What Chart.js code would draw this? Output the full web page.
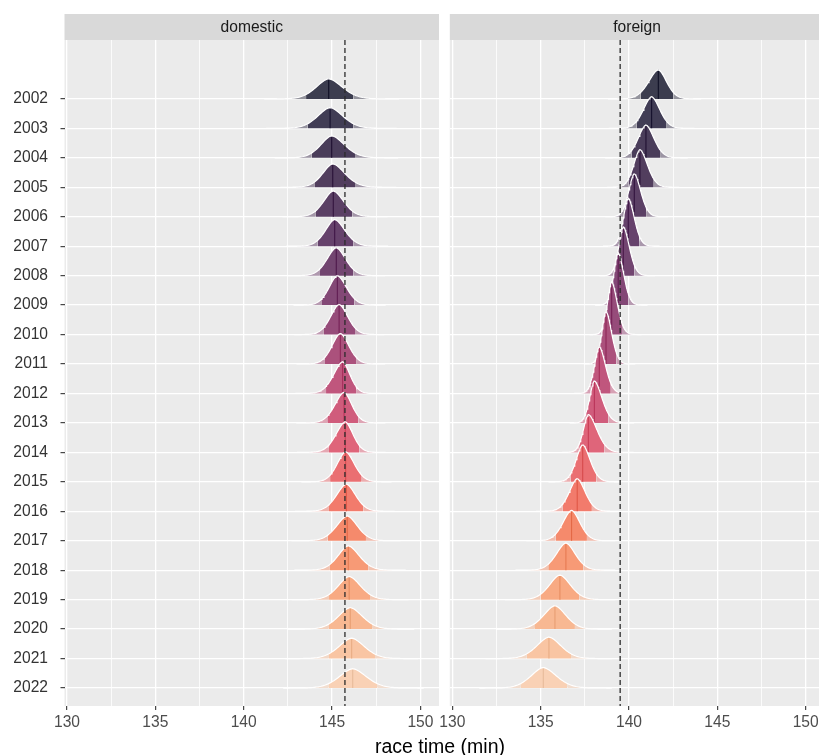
<!DOCTYPE html>
<html>
<head>
<meta charset="utf-8">
<script src="https://cdn.jsdelivr.net/npm/chart.js@4.4.0/dist/chart.umd.min.js"></script>
<style>
  html, body { margin: 0; padding: 0; background: #fff; }
  #wrap { position: relative; width: 819px; height: 755px; overflow: hidden; }
  #domestic { position: absolute; left: 0; top: 0; }
  #foreign { position: absolute; left: 425px; top: 0; }
  #xtitle {
    position: absolute; left: 290px; width: 300px; top: 735px;
    text-align: center; line-height: 20px; color: #000;
    font: 19.5px "Liberation Sans", Arial, sans-serif;
  }
</style>
</head>
<body>
<div id="wrap">
  <canvas id="domestic" width="445" height="755"></canvas>
  <canvas id="foreign" width="405" height="755"></canvas>
  <div id="xtitle">race time (min)</div>
</div>
<script>
// rows (top to bottom) and x ticks
const years = [2002, 2003, 2004, 2005, 2006, 2007, 2008, 2009, 2010, 2011, 2012,
               2013, 2014, 2015, 2016, 2017, 2018, 2019, 2020, 2021, 2022];
const xTicks = [130, 135, 140, 145, 150];

// domestic: median, 5% and 95% quantile of race time (min)
const domesticMedian = [144.81, 144.89, 144.98, 145.04, 145.07, 145.15, 145.24, 145.30, 145.40, 145.47, 145.60,
                        145.68, 145.75, 145.77, 145.81, 145.86, 145.92, 145.97, 146.03, 146.11, 146.17];
const domesticLow = [143.53, 143.62, 143.85, 144.00, 144.06, 144.19, 144.28, 144.43, 144.51, 144.60, 144.66,
                     144.73, 144.79, 144.89, 144.79, 144.75, 144.85, 144.83, 144.79, 144.79, 144.79];
const domesticHigh = [146.21, 146.21, 146.30, 146.30, 146.15, 146.21, 146.21, 146.26, 146.30, 146.36, 146.36,
                      146.49, 146.55, 146.68, 146.77, 146.92, 147.06, 147.15, 147.30, 147.43, 147.58];
const domesticRef = 145.73;

// foreign
const foreignMedian = [141.66, 141.28, 140.96, 140.62, 140.30, 139.96, 139.68, 139.39, 139.02, 138.70, 138.32,
                       138.04, 137.70, 137.38, 137.07, 136.75, 136.43, 136.09, 135.81, 135.47, 135.15];
const foreignLow = [140.66, 140.43, 140.15, 139.97, 139.72, 139.46, 139.20, 138.93, 138.58, 138.26, 137.82,
                    137.55, 137.18, 136.70, 136.25, 135.85, 135.43, 135.00, 134.64, 134.21, 133.88];
const foreignHigh = [142.51, 142.13, 141.79, 141.40, 140.97, 140.58, 140.30, 139.96, 139.60, 139.28, 138.97,
                     138.83, 138.60, 138.15, 137.90, 137.62, 137.41, 137.19, 136.94, 136.72, 136.51];
const foreignRef = 139.5;

// fill colour per year (as it shows on the grey panel)
const palette = ['#3c3d4f', '#413d55', '#4a3d5a', '#523e5e', '#5b4065', '#66426c', '#724570', '#834876',
                 '#964c7a', '#ab517c', '#c0567d', '#d05c7c', '#df657a', '#ea6f72', '#f27b6c', '#f58a6c',
                 '#f79a76', '#f8aa83', '#f8b892', '#f9c5a3', '#f9d1b5'];

const FONT = '"Liberation Sans", Arial, sans-serif';
const PANEL_BG = '#ebebeb';
const RIDGE_HEIGHT = 1.824; // overall ridge scaling, in rows
const BETA = 1.75;          // peakedness of the ridge shape
const Y_MIN = 2000, Y_MAX = 2022.61;
const X_MIN = 129.859, X_MAX = 151.053;

Chart.defaults.font.family = FONT;

function hexRgb(h) {
  return [1, 3, 5].map(i => parseInt(h.slice(i, i + 2), 16));
}
function mix(h, other, t) {
  const a = hexRgb(h), b = hexRgb(other);
  return 'rgb(' + a.map((v, i) => Math.round(v * (1 - t) + b[i] * t)).join(',') + ')';
}
function lineColour(h) {
  const c = hexRgb(h).map(v => Math.max(0, Math.min(255, (v - 0.2 * 235) / 0.8)) * 0.92);
  return 'rgb(' + c.map(Math.round).join(',') + ')';
}

// half-shape exp(-t^beta): its area and the point holding 90% of it
const shape = (function () {
  const dt = 0.0005;
  let total = 0;
  for (let t = 0; t < 12; t += dt) total += Math.exp(-Math.pow(t + dt / 2, BETA)) * dt;
  let acc = 0, q = 0;
  for (let t = 0; t < 12; t += dt) {
    acc += Math.exp(-Math.pow(t + dt / 2, BETA)) * dt;
    if (acc >= 0.9 * total) { q = t + dt; break; }
  }
  return { total: total, q: q };
})();
const RIDGE_SCALE = RIDGE_HEIGHT * shape.total / shape.q;

// split density peaked at the median, its 5% / 95% points at lo / hi, on baseline = year
function ridge(m, lo, hi, base) {
  const aL = (m - lo) / shape.q, aR = (hi - m) / shape.q;
  const k = 1 / ((aL + aR) * shape.total);
  const dens = x => k * Math.exp(-Math.pow(Math.abs(x - m) / (x < m ? aL : aR), BETA));
  const a = m - 3.6 * aL, b = m + 3.6 * aR;
  const xs = [];
  for (let i = 0; i <= 100; i++) xs.push(a + (b - a) * i / 100);
  xs.push(lo, m, hi);
  xs.sort((p, q) => p - q);
  const pt = x => ({ x: x, y: base - RIDGE_SCALE * dens(x) });
  return {
    all: xs.map(pt),
    left: xs.filter(x => x <= lo).map(pt),
    mid: xs.filter(x => x >= lo && x <= hi).map(pt),
    right: xs.filter(x => x >= hi).map(pt),
    top: pt(m)
  };
}

function buildDatasets(med, lo, hi, ref) {
  const sets = [];
  let seq = 0;
  const area = (data, colour, base) => ({
    data: data, fill: { value: base }, backgroundColor: colour,
    borderWidth: 0, pointRadius: 0, order: -(seq++)
  });
  years.forEach((yr, i) => {
    const r = ridge(med[i], lo[i], hi[i], yr);
    const tail = mix(palette[i], PANEL_BG, 0.5);
    sets.push(area(r.left, tail, yr));
    sets.push(area(r.right, tail, yr));
    sets.push(area(r.mid, palette[i], yr));
    sets.push({
      data: [{ x: med[i], y: yr }, r.top], borderColor: lineColour(palette[i]),
      borderWidth: 1.1, pointRadius: 0, fill: false, order: -(seq++)
    });
    sets.push({
      data: r.all, borderColor: '#ffffff', borderWidth: 1.2,
      pointRadius: 0, fill: false, order: -(seq++)
    });
  });
  sets.push({
    data: [{ x: ref, y: Y_MIN }, { x: ref, y: Y_MAX }], borderColor: '#2b2b2b',
    borderWidth: 1.3, borderDash: [5, 3], pointRadius: 0, fill: false, order: -(seq++)
  });
  return sets;
}

const panelPlugin = {
  id: 'panel',
  beforeDraw(chart, args, opts) {
    const { ctx, chartArea } = chart;
    ctx.save();
    ctx.fillStyle = PANEL_BG;
    ctx.fillRect(chartArea.left, chartArea.top, chartArea.right - chartArea.left, chartArea.bottom - chartArea.top);
    ctx.fillStyle = '#d9d9d9';
    ctx.fillRect(chartArea.left, 14, chartArea.right - chartArea.left, chartArea.top - 14);
    ctx.fillStyle = '#1a1a1a';
    ctx.font = '15.6px ' + FONT;
    ctx.textAlign = 'center';
    ctx.textBaseline = 'middle';
    ctx.fillText(opts.label, (chartArea.left + chartArea.right) / 2, 28);
    ctx.restore();
  }
};

function makeChart(id, label, med, lo, hi, ref, showY, padding) {
  const minorTicks = [];
  xTicks.forEach((v, i) => {
    minorTicks.push(v);
    if (i < xTicks.length - 1) minorTicks.push((v + xTicks[i + 1]) / 2);
  });
  const isMajor = v => xTicks.indexOf(v) !== -1;

  return new Chart(document.getElementById(id), {
    type: 'line',
    data: { datasets: buildDatasets(med, lo, hi, ref) },
    plugins: [panelPlugin],
    options: {
      responsive: false,
      animation: false,
      events: [],
      layout: { padding: padding },
      plugins: {
        legend: { display: false },
        tooltip: { enabled: false },
        panel: { label: label }
      },
      elements: { line: { tension: 0 } },
      scales: {
        x: {
          type: 'linear',
          min: X_MIN,
          max: X_MAX,
          afterBuildTicks: s => { s.ticks = minorTicks.map(v => ({ value: v })); },
          afterFit: s => { s.height = 49; s.paddingLeft = 0; s.paddingRight = 0; },
          border: { display: false },
          grid: {
            color: '#ffffff',
            lineWidth: c => (c.tick && isMajor(c.tick.value)) ? 1.3 : 0.8,
            tickLength: 4,
            tickWidth: 1.1,
            tickColor: c => (c.tick && isMajor(c.tick.value)) ? '#333333' : 'rgba(0,0,0,0)'
          },
          ticks: {
            autoSkip: false,
            maxRotation: 0,
            padding: 3,
            color: '#4d4d4d',
            font: { size: 15.6 },
            callback: v => isMajor(v) ? String(v) : ''
          }
        },
        y: {
          type: 'linear',
          reverse: true,
          min: Y_MIN,
          max: Y_MAX,
          afterBuildTicks: s => { s.ticks = years.map(v => ({ value: v })); },
          afterFit: s => { s.width = showY ? 64.5 : 0; s.paddingTop = 0; s.paddingBottom = 0; },
          border: { display: false },
          grid: {
            color: '#ffffff',
            lineWidth: 1.3,
            drawTicks: showY,
            tickLength: 4,
            tickWidth: 1.1,
            tickColor: '#333333'
          },
          ticks: {
            display: showY,
            padding: 12.5,
            color: '#333333',
            font: { size: 15.6 },
            callback: v => String(v)
          }
        }
      }
    }
  });
}

makeChart('domestic', 'domestic', domesticMedian, domesticLow, domesticHigh, domesticRef, true,
  { left: 0, right: 6, top: 40, bottom: 0 });
makeChart('foreign', 'foreign', foreignMedian, foreignLow, foreignHigh, foreignRef, false,
  { left: 24.8, right: 5.7, top: 40, bottom: 0 });
</script>
</body>
</html>
